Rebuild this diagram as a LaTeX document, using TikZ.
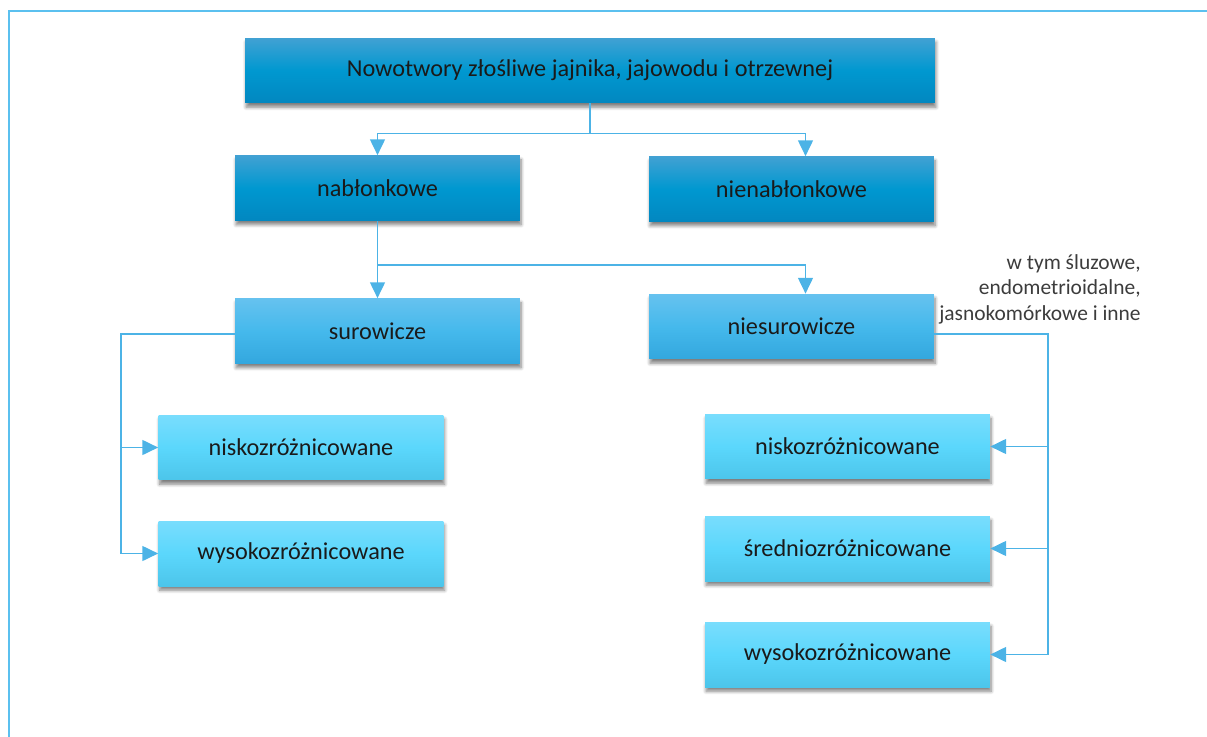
\documentclass[tikz,border=0pt]{standalone}
\usepackage{fontspec}
\setmainfont{Carlito}
\usetikzlibrary{arrows.meta,calc,shadows.blur}
\definecolor{frame}{HTML}{5BC0EF}
\definecolor{conn}{HTML}{4CB3E6}
\definecolor{darkA}{HTML}{41A1D3}
\definecolor{darkB}{HTML}{0098D0}
\definecolor{darkC}{HTML}{0287C0}
\definecolor{midA}{HTML}{66C2EF}
\definecolor{midB}{HTML}{45B9EC}
\definecolor{midC}{HTML}{33A7DE}
\definecolor{liteA}{HTML}{79DDFD}
\definecolor{liteB}{HTML}{5BD7FC}
\definecolor{liteC}{HTML}{4CC5EA}
\definecolor{txt}{HTML}{1A1A1A}
\begin{document}
\begin{tikzpicture}[x=0.02cm,y=-0.02cm,
  box/.style={rectangle, minimum width=5.7cm, minimum height=1.3cm, inner sep=0pt,
    text=txt, font=\fontsize{13.8}{16}\selectfont,
    blur shadow={shadow xshift=0.6pt, shadow yshift=-2.4pt, shadow blur steps=6, shadow opacity=50}},
  lev0/.style={box, top color=darkA, bottom color=darkC, middle color=darkB},
  lev1/.style={box, top color=midA, bottom color=midC, middle color=midB},
  lev2/.style={box, top color=liteA, bottom color=liteC, middle color=liteB},
  conn/.style={draw=conn, line width=0.85pt, -{Triangle[length=9pt,width=8.5pt]}}]
\useasboundingbox (0,0) rectangle (1207,737);
\draw[frame, line width=1.7pt] (9,737) -- (9,11) -- (1207,11);
\node[lev0, minimum width=13.8cm] (root) at (590,70.5){Nowotwory złośliwe jajnika, jajowodu i otrzewnej};
\node[lev0] (nab) at (377.5,188){nabłonkowe};
\node[lev0] (nienab) at (791.5,189){nienabłonkowe};
\node[lev1] (sur) at (377.5,331){surowicze};
\node[lev1] (niesur) at (791.5,326.5){niesurowicze};
\node[lev2] (snisko) at (301,447.5){niskozróżnicowane};
\node[lev2] (swysoko) at (301,553.5){wysokozróżnicowane};
\node[lev2] (nnisko) at (847.5,446.5){niskozróżnicowane};
\node[lev2] (nsredni) at (847.5,548.5){średniozróżnicowane};
\node[lev2] (nwysoko) at (847.5,654.5){wysokozróżnicowane};
\node[anchor=north east, align=right, inner sep=0pt, text=txt!85,
  font=\fontsize{12.2}{14.6}\selectfont] (uwaga) at (1141,254)
  {w tym śluzowe,\\endometrioidalne,\\jasnokomórkowe i inne};
% level 0 -> 1
\coordinate (r1) at ($(root.south)+(0,30)$);
\draw[conn] (root.south) -- (r1) -| (nab.north);
\draw[conn] (root.south) -- (r1) -| ($(nienab.north)+(14,0)$);
% level 1 -> 2
\coordinate (n1) at ($(nab.south)+(0,44)$);
\draw[conn] (nab.south) -- (n1) -| (sur.north);
\draw[conn] (nab.south) -- (n1) -| ($(niesur.north)+(14,0)$);
% surowicze
\coordinate (lbus) at (121,334);
\draw[conn] (sur.west |- lbus) -- (lbus) |- (snisko.west);
\draw[conn] (sur.west |- lbus) -- (lbus) |- (swysoko.west);
% niesurowicze
\coordinate (rbus) at (1048,334);
\draw[conn] (niesur.east |- rbus) -- (rbus) |- (nnisko.east);
\draw[conn] (niesur.east |- rbus) -- (rbus) |- (nsredni.east);
\draw[conn] (niesur.east |- rbus) -- (rbus) |- (nwysoko.east);
\end{tikzpicture}
\end{document}
